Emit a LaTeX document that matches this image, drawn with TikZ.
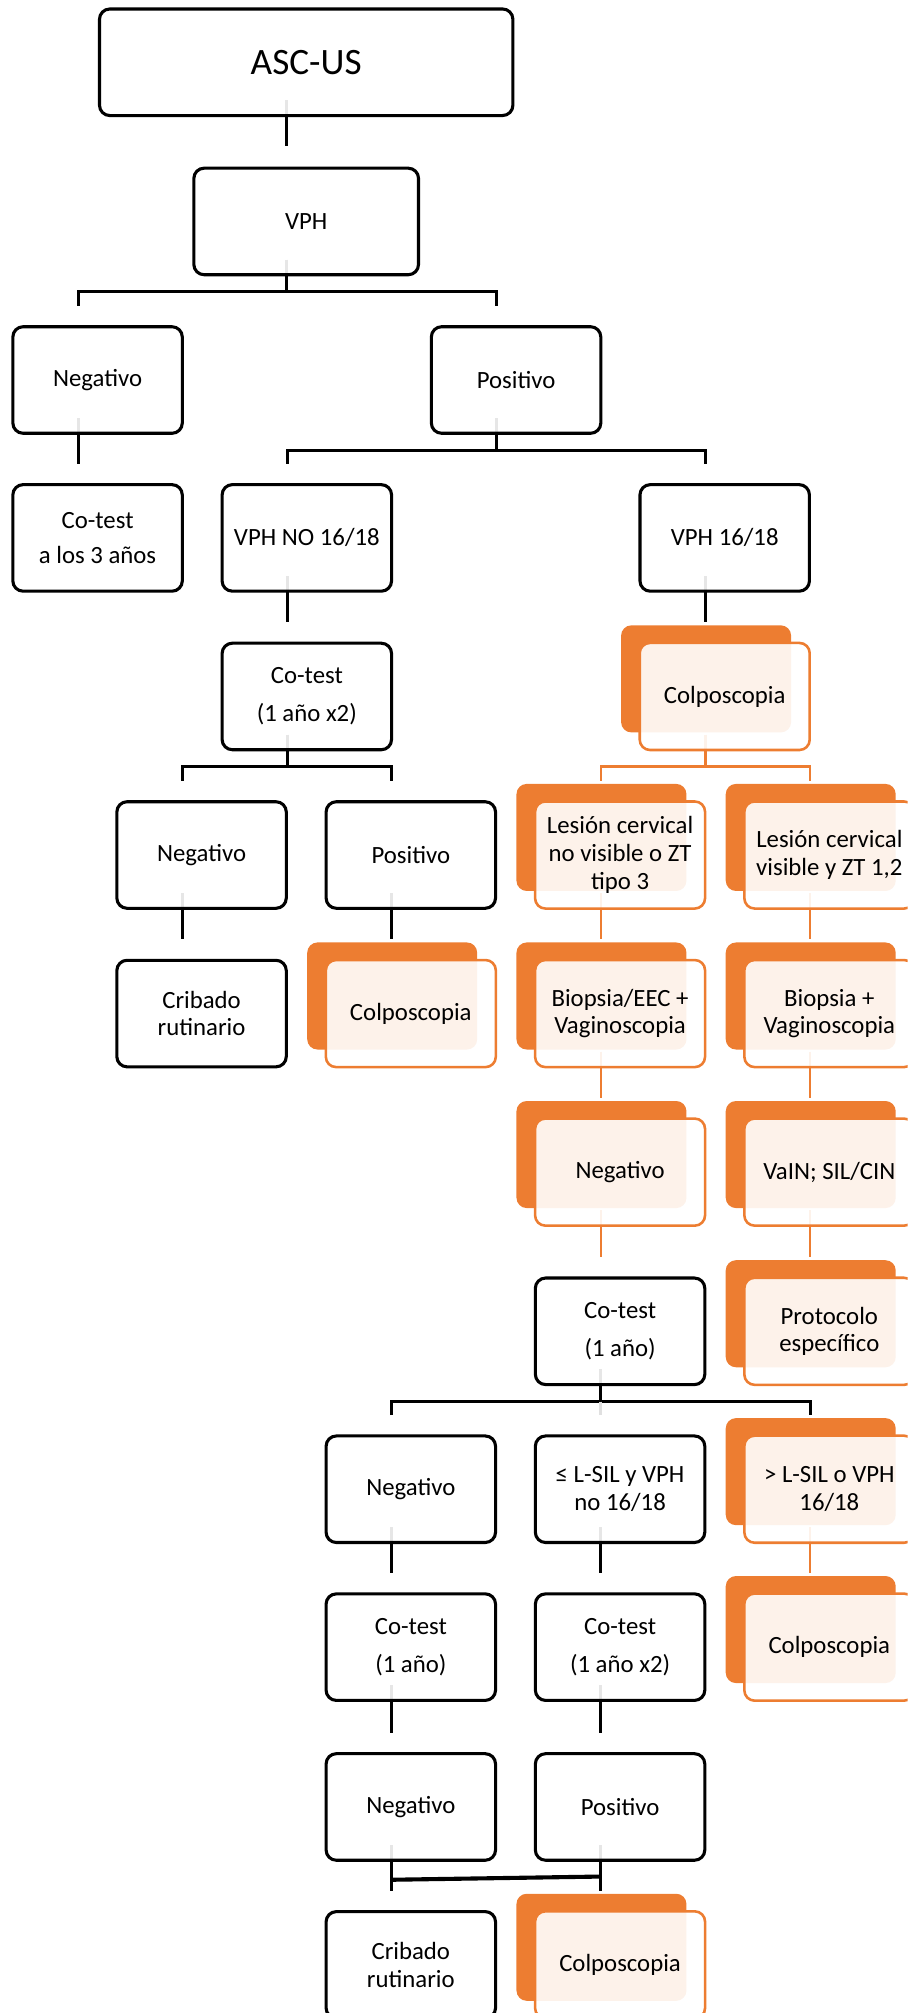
\documentclass[tikz,border=0pt]{standalone}
\usepackage{fontspec}
\setmainfont{Carlito}
\usetikzlibrary{backgrounds}
\definecolor{smorange}{HTML}{ED7D31}

\begin{document}
\begin{tikzpicture}[x=1pt,y=-1pt,
every node/.style={align=center,font=\fontsize{19.3}{21.6}\selectfont},
box/.style={draw,line width=2.4pt,rounded corners=8pt,fill=white,fill opacity=0.9,text opacity=1,minimum width=132pt,minimum height=83pt,inner sep=2pt},
obox/.style={box,draw=smorange,line width=2pt,minimum width=132.4pt,minimum height=83.4pt,
  preaction={fill=smorange,fill opacity=1,transform canvas={shift={(-14.5pt,13.7pt)}}}},
link/.style={line width=2.4pt},
olink/.style={link,draw=smorange,line width=2pt},
stub/.style={link,draw=black!12}]

\useasboundingbox (0,0) rectangle (707,1568);
\clip (0,0) rectangle (707,1568);

% top of the tree
\node[box,minimum width=322pt,font=\fontsize{29}{34}\selectfont] (asc) at (238.5,48.5) {ASC-US};
\node[box,minimum width=175pt] (vph) at (238.5,172.5) {VPH};
\node[box] (neg1) at (76,296) {Negativo};
\node[box] (pos1) at (402,296) {Positivo};
\node[box] (cot1) at (76,419) {Co-test\\[5.5pt]a los 3 años};
\node[box] (vphno) at (239,419) {VPH NO 16/18};
\node[box] (vph16) at (564.5,419) {VPH 16/18};

% VPH NO 16/18 branch
\node[box] (cot2) at (239,542.5) {Co-test\\[8pt](1 año x2)};
\node[box] (neg2) at (157,666) {Negativo};
\node[box] (pos2) at (320,666) {Positivo};
\node[box] (crib1) at (157,789.5) {Cribado\\rutinario};
\node[obox] (colp2) at (320,789.5) {Colposcopia};

% VPH 16/18 branch
\node[obox] (colp1) at (564.5,542.5) {Colposcopia};
\node[obox] (lesn) at (483,666) {Lesión cervical\\no visible o ZT\\tipo 3};
\node[obox] (lesv) at (646,666) {Lesión cervical\\visible y ZT 1,2};
\node[obox] (bioa) at (483,789.5) {Biopsia/EEC +\\Vaginoscopia};
\node[obox] (biob) at (646,789.5) {Biopsia +\\Vaginoscopia};
\node[obox] (neg5) at (483,913) {Negativo};
\node[obox] (vain) at (646,913) {VaIN; SIL/CIN};
\node[box] (cot3) at (483,1037) {Co-test\\[8pt](1 año)};
\node[obox] (prot) at (646,1037) {Protocolo\\específico};

% after Co-test (1 año)
\node[box] (neg3) at (320,1160) {Negativo};
\node[box] (lsil) at (483,1160) {≤ L-SIL y VPH\\no 16/18};
\node[obox] (gsil) at (646,1160) {> L-SIL o VPH\\16/18};
\node[box] (cot4) at (320,1283) {Co-test\\[8pt](1 año)};
\node[box] (cot5) at (483,1283) {Co-test\\[8pt](1 año x2)};
\node[obox] (colp3) at (646,1283) {Colposcopia};
\node[box] (neg4) at (320,1407.5) {Negativo};
\node[box] (pos4) at (483,1407.5) {Positivo};
\node[box] (crib2) at (320,1530.5) {Cribado\\rutinario};
\node[obox] (colp4) at (483,1530.5) {Colposcopia};

\begin{scope}[on background layer]
\draw[link] ([xshift=-15pt,yshift=13pt]asc.south) -- ([xshift=-15pt,yshift=16pt]vph.north);
\draw[link] ([xshift=-15pt,yshift=13pt]vph.south) -- ([xshift=-15pt,yshift=-12pt]vph.south);
\draw[link] ([xshift=-15pt,yshift=15pt]neg1.north) |- ([yshift=-12pt]vph.south) -| ([xshift=-15pt,yshift=15pt]pos1.north);
\draw[link] ([xshift=-15pt,yshift=13pt]neg1.south) -- ([xshift=-15pt,yshift=15pt]cot1.north);
\draw[link] ([xshift=-15pt,yshift=13pt]pos1.south) -- ([xshift=-15pt,yshift=-12pt]pos1.south);
\draw[link] ([xshift=-15pt,yshift=15pt]vphno.north) |- ([yshift=-12pt]pos1.south) -| ([xshift=-15pt,yshift=15pt]vph16.north);

\draw[link] ([xshift=-15pt,yshift=13pt]vphno.south) -- ([xshift=-15pt,yshift=15pt]cot2.north);
\draw[link] ([xshift=-15pt,yshift=13pt]cot2.south) -- ([xshift=-15pt,yshift=-12pt]cot2.south);
\draw[link] ([xshift=-15pt,yshift=15pt]neg2.north) |- ([yshift=-12pt]cot2.south) -| ([xshift=-15pt,yshift=15pt]pos2.north);
\draw[link] ([xshift=-15pt,yshift=13pt]neg2.south) -- ([xshift=-15pt,yshift=15pt]crib1.north);
\draw[link] ([xshift=-15pt,yshift=13pt]pos2.south) -- ([xshift=-15pt,yshift=15pt]colp2.north);

\draw[link] ([xshift=-15pt,yshift=13pt]vph16.south) -- ([xshift=-15pt,yshift=15pt]colp1.north);
\draw[olink] ([xshift=-15pt,yshift=13pt]colp1.south) -- ([xshift=-15pt,yshift=-12pt]colp1.south);
\draw[olink] ([xshift=-15pt,yshift=15pt]lesn.north) |- ([yshift=-12pt]colp1.south) -| ([xshift=-15pt,yshift=15pt]lesv.north);
\draw[olink] ([xshift=-15pt,yshift=13pt]lesn.south) -- ([xshift=-15pt,yshift=15pt]bioa.north);
\draw[olink] ([xshift=-15pt,yshift=13pt]lesv.south) -- ([xshift=-15pt,yshift=15pt]biob.north);
\draw[olink] ([xshift=-15pt,yshift=13pt]bioa.south) -- ([xshift=-15pt,yshift=15pt]neg5.north);
\draw[olink] ([xshift=-15pt,yshift=13pt]biob.south) -- ([xshift=-15pt,yshift=15pt]vain.north);
\draw[olink] ([xshift=-15pt,yshift=13pt]neg5.south) -- ([xshift=-15pt,yshift=15pt]cot3.north);
\draw[olink] ([xshift=-15pt,yshift=13pt]vain.south) -- ([xshift=-15pt,yshift=15pt]prot.north);

\draw[link] ([xshift=-15pt,yshift=13pt]cot3.south) -- ([xshift=-15pt,yshift=-12pt]cot3.south);
\draw[link] ([xshift=-15pt,yshift=15pt]neg3.north) |- ([yshift=-12pt]cot3.south) -| ([xshift=-15pt,yshift=15pt]gsil.north);
\draw[stub] ([xshift=-15pt,yshift=-12pt]cot3.south) -- ([xshift=-15pt,yshift=15pt]lsil.north);
\draw[link] ([xshift=-15pt,yshift=13pt]neg3.south) -- ([xshift=-15pt,yshift=15pt]cot4.north);
\draw[link] ([xshift=-15pt,yshift=13pt]lsil.south) -- ([xshift=-15pt,yshift=15pt]cot5.north);
\draw[olink] ([xshift=-15pt,yshift=13pt]gsil.south) -- ([xshift=-15pt,yshift=15pt]colp3.north);
\draw[link] ([xshift=-15pt,yshift=13pt]cot4.south) -- ([xshift=-15pt,yshift=15pt]neg4.north);
\draw[link] ([xshift=-15pt,yshift=13pt]cot5.south) -- ([xshift=-15pt,yshift=15pt]pos4.north);
\draw[link] ([xshift=-15pt,yshift=13pt]neg4.south) -- ([xshift=-15pt,yshift=15pt]crib2.north);
\draw[link] ([xshift=-15pt,yshift=13pt]pos4.south) -- ([xshift=-15pt,yshift=15pt]colp4.north);
\draw[link,line width=3.2pt] ([xshift=-15pt,yshift=-14pt]neg4.south) -- ([xshift=-15pt,yshift=-11.5pt]pos4.south);
\end{scope}
\end{tikzpicture}
\end{document}
